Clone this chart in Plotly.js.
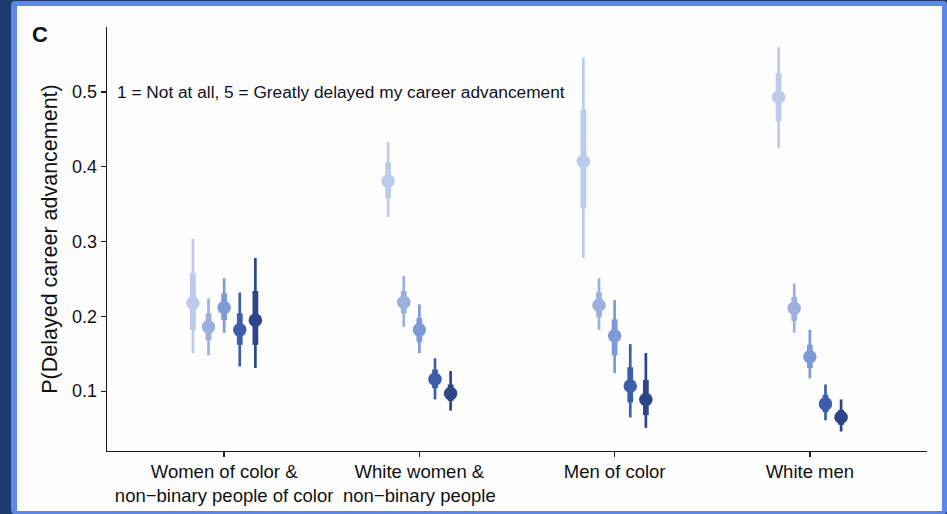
<!DOCTYPE html>
<html>
<head>
<meta charset="utf-8">
<script src="https://cdn.plot.ly/plotly-3.0.1.min.js"></script>
<style>
  html, body { margin: 0; padding: 0; width: 947px; height: 514px; overflow: hidden; background: #1e3b70; }
  #frame { position: absolute; left: 11px; top: 1px; width: 936px; height: 513px; box-sizing: border-box;
           border-style: solid; border-color: #5b87e6; border-width: 5px 5px 3px 6px; border-radius: 4px; background: #fdfdfe; }
  #chart { position: absolute; left: 0; top: 0; width: 947px; height: 514px; }
</style>
</head>
<body>
<div id="frame"></div>
<div id="chart"></div>
<script>
// ---- data ----
const categories = ["Women of color &<br>non\u2212binary people of color", "White women &<br>non\u2212binary people", "Men of color", "White men"];
const levels = ["1", "2", "3", "4", "5"];
const levelColors = ["#bccbeb", "#9cb0e0", "#7d9ad8", "#3d5eaa", "#2c4687"];

const est1 = [0.218, 0.381, 0.407, 0.493];
const lo95_1 = [0.151, 0.333, 0.278, 0.425], hi95_1 = [0.304, 0.433, 0.546, 0.560];
const lo80_1 = [0.182, 0.358, 0.345, 0.461], hi80_1 = [0.258, 0.406, 0.476, 0.525];

const est2 = [0.186, 0.219, 0.215, 0.211];
const lo95_2 = [0.148, 0.186, 0.182, 0.178], hi95_2 = [0.224, 0.254, 0.251, 0.244];
const lo80_2 = [0.168, 0.204, 0.199, 0.194], hi80_2 = [0.204, 0.234, 0.232, 0.226];

const est3 = [0.212, 0.182, 0.174, 0.146];
const lo95_3 = [0.178, 0.151, 0.124, 0.117], hi95_3 = [0.251, 0.216, 0.222, 0.182];
const lo80_3 = [0.195, 0.166, 0.148, 0.131], hi80_3 = [0.231, 0.198, 0.196, 0.162];

const est4 = [0.182, 0.116, 0.107, 0.083];
const lo95_4 = [0.133, 0.089, 0.065, 0.061], hi95_4 = [0.232, 0.144, 0.163, 0.109];
const lo80_4 = [0.162, 0.104, 0.085, 0.072], hi80_4 = [0.204, 0.129, 0.132, 0.095];

const est5 = [0.195, 0.097, 0.089, 0.065];
const lo95_5 = [0.131, 0.074, 0.051, 0.046], hi95_5 = [0.278, 0.127, 0.151, 0.089];
const lo80_5 = [0.162, 0.087, 0.068, 0.055], hi80_5 = [0.234, 0.109, 0.115, 0.075];

const noteText = "1 = Not at all, 5 = Greatly delayed my career advancement";
const yTitle = "P(Delayed career advancement)";
const panelLabel = "C";

// ---- build traces ----
const series = [
  {est: est1, lo95: lo95_1, hi95: hi95_1, lo80: lo80_1, hi80: hi80_1},
  {est: est2, lo95: lo95_2, hi95: hi95_2, lo80: lo80_2, hi80: hi80_2},
  {est: est3, lo95: lo95_3, hi95: hi95_3, lo80: lo80_3, hi80: hi80_3},
  {est: est4, lo95: lo95_4, hi95: hi95_4, lo80: lo80_4, hi80: hi80_4},
  {est: est5, lo95: lo95_5, hi95: hi95_5, lo80: lo80_5, hi80: hi80_5}
];
const dodge = 0.08;
const traces = [];
series.forEach((s, li) => {
  const off = (li - 2) * dodge;
  const xs = categories.map((c, ci) => ci + 1 + off);
  const seg = (lo, hi) => {
    const x = [], y = [];
    xs.forEach((xv, i) => { x.push(xv, xv, null); y.push(lo[i], hi[i], null); });
    return {x, y};
  };
  const thin = seg(s.lo95, s.hi95);
  const thick = seg(s.lo80, s.hi80);
  traces.push({x: thin.x, y: thin.y, mode: "lines", line: {color: levelColors[li], width: 2.7}, hoverinfo: "skip", showlegend: false});
  traces.push({x: thick.x, y: thick.y, mode: "lines", line: {color: levelColors[li], width: 5.8}, hoverinfo: "skip", showlegend: false});
  traces.push({x: xs, y: s.est, mode: "markers", name: levels[li], marker: {color: levelColors[li], size: 13.5}, showlegend: false});
});

const axisColor = "#1a1a1a";
const layout = {
  width: 947, height: 514,
  margin: {l: 107, r: 20, t: 27, b: 63},
  paper_bgcolor: "rgba(0,0,0,0)",
  plot_bgcolor: "rgba(0,0,0,0)",
  font: {family: "Liberation Sans, Arial, sans-serif", color: "#111111"},
  xaxis: {
    range: [0.4, 4.6], showgrid: false, zeroline: false,
    showline: true, linecolor: axisColor, linewidth: 1.3,
    ticks: "outside", ticklen: 5, tickcolor: axisColor, tickwidth: 1.3,
    tickvals: [1, 2, 3, 4], ticktext: categories,
    tickfont: {size: 18.5, color: "#111111"}, ticklabelstandoff: -2
  },
  yaxis: {
    range: [0.02, 0.587], showgrid: false, zeroline: false,
    showline: true, linecolor: axisColor, linewidth: 1.3,
    ticks: "outside", ticklen: 5, tickcolor: axisColor, tickwidth: 1.3,
    tickvals: [0.1, 0.2, 0.3, 0.4, 0.5], ticktext: ["0.1", "0.2", "0.3", "0.4", "0.5"],
    tickfont: {size: 18, color: "#111111"},
    title: {text: yTitle, font: {size: 21.5, color: "#111111"}, standoff: 8}
  },
  annotations: [
    {xref: "x", yref: "y", x: 0.44, y: 0.5, xanchor: "left", yanchor: "middle", text: noteText,
     showarrow: false, font: {size: 17.3, color: "#111122"}},
    {xref: "paper", yref: "paper", x: -0.082, y: 0.983, xanchor: "center", yanchor: "middle",
     text: "<b>" + panelLabel + "</b>", showarrow: false, font: {size: 22, color: "#111111"}}
  ]
};

Plotly.newPlot("chart", traces, layout, {displayModeBar: false, staticPlot: true});
</script>
</body>
</html>
